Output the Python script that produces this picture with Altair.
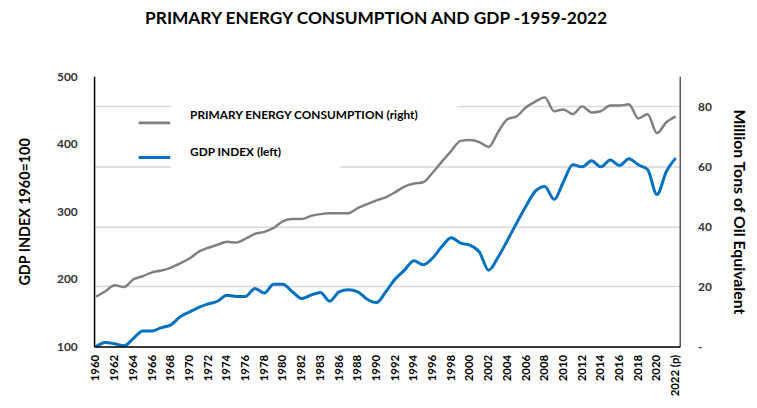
import altair as alt
import pandas as pd

years = list(range(1960, 2023))

gdp_index = [100, 106, 104, 101, 112, 123, 123, 128, 132, 144,
             151, 158, 163, 167, 176, 174, 174, 186, 179, 192,
             192, 181, 171, 176, 180, 167, 181, 184, 181, 170,
             165, 181, 200, 213, 227, 221, 231, 248, 261, 253,
             250, 240, 213, 232, 257, 283, 308, 330, 337, 318,
             344, 369, 366, 375, 366, 376, 368, 378, 369, 362,
             325, 359, 379]

energy_mtoe = [16.6, 18.4, 20.4, 19.8, 22.4, 23.4, 24.7, 25.3, 26.3, 27.7,
               29.3, 31.6, 32.9, 33.9, 34.9, 34.6, 35.9, 37.5, 38.2, 39.5,
               41.8, 42.5, 42.5, 43.5, 44.1, 44.4, 44.4, 44.4, 46.1, 47.4,
               48.7, 49.7, 51.4, 53.3, 54.3, 54.7, 57.9, 61.6, 65.2, 68.5,
               68.8, 68.1, 66.5, 71.4, 75.7, 76.7, 79.7, 81.6, 83.0, 78.4,
               79.0, 77.4, 80.0, 78.0, 78.4, 80.3, 80.3, 80.7, 76.0, 77.4,
               71.1, 74.7, 76.7]

x_tick_years = list(range(1960, 2023, 2))
left_ticks = [100, 200, 300, 400, 500]
right_ticks = [0, 20, 40, 60, 80]

title_text = "PRIMARY ENERGY CONSUMPTION AND GDP -1959-2022"
legend_energy = "PRIMARY ENERGY CONSUMPTION (right)"
legend_gdp = "GDP INDEX (left)"
left_title = "GDP INDEX 1960=100"
right_title = "Million Tons of Oil Equivalent"

FONT = "Lato"
GRAY = "#808080"
BLUE = "#0070C0"

df = pd.DataFrame({"year": years, "gdp": gdp_index, "energy": energy_mtoe})

x_enc = alt.X(
    "year:Q",
    scale=alt.Scale(domain=[1959.79, 2022.44], nice=False, zero=False),
    axis=alt.Axis(
        values=x_tick_years,
        labelExpr="datum.value == 1984 ? '1983' : (datum.value == 2022 ? '2022 (p)' : datum.label)",
        format="d",
        labelAngle=270,
        labelAlign="right",
        labelBaseline="middle",
        labelFontSize=11.5,
        labelFontWeight="bold",
        labelColor="#000000",
        labelPadding=8,
        labelOverlap=False,
        ticks=False,
        grid=False,
        domainColor="#000000",
        domainWidth=1.5,
        title=None,
        zindex=1,
    ),
)

base = alt.Chart(df).encode(x=x_enc)

energy_line = base.mark_line(color=GRAY, strokeWidth=2.5, interpolate="monotone").encode(
    y=alt.Y(
        "energy:Q",
        scale=alt.Scale(domain=[0, 90], nice=False, zero=False),
        axis=alt.Axis(
            orient="right",
            values=right_ticks,
            labelExpr="datum.value == 0 ? '-' : datum.label",
            labelFontSize=12,
            labelFontWeight="bold",
            labelColor="#333333",
            labelPadding=18,
            ticks=False,
            grid=True,
            gridColor="#d9d9d9",
            gridWidth=1.5,
            domainColor="#595959",
            domainWidth=1.5,
            title=right_title,
            titleFontSize=16,
            titleFontWeight="bold",
            titleColor="#000000",
            titlePadding=19,
        ),
    )
)

gdp_line = base.mark_line(color=BLUE, strokeWidth=3, interpolate="monotone").encode(
    y=alt.Y(
        "gdp:Q",
        scale=alt.Scale(domain=[100, 500], nice=False, zero=False),
        axis=alt.Axis(
            orient="left",
            values=left_ticks,
            labelFontSize=12,
            labelFontWeight="bold",
            labelColor="#333333",
            labelPadding=17,
            ticks=False,
            grid=False,
            domainColor="#000000",
            domainWidth=1.5,
            title=left_title,
            titleFontSize=14.5,
            titleFontWeight="bold",
            titleColor="#000000",
            titlePadding=24,
        ),
    )
)

one = alt.Chart(pd.DataFrame({"k": [0]}))

legend_box1 = one.mark_rect(color="white").encode(
    x=alt.value(78), x2=alt.value(367), y=alt.value(20), y2=alt.value(55)
)
legend_box2 = one.mark_rect(color="white").encode(
    x=alt.value(78), x2=alt.value(249), y=alt.value(58), y2=alt.value(95)
)
legend_line1 = one.mark_rule(color=GRAY, strokeWidth=3).encode(
    x=alt.value(45), x2=alt.value(77), y=alt.value(47)
)
legend_line2 = one.mark_rule(color=BLUE, strokeWidth=3).encode(
    x=alt.value(45), x2=alt.value(77), y=alt.value(82)
)
legend_text1 = one.mark_text(align="left", baseline="middle", fontSize=12,
                             fontWeight="bold", font=FONT, color="#000000").encode(
    x=alt.value(97), y=alt.value(39), text=alt.value(legend_energy)
)
legend_text2 = one.mark_text(align="left", baseline="middle", fontSize=12,
                             fontWeight="bold", font=FONT, color="#000000").encode(
    x=alt.value(97), y=alt.value(76), text=alt.value(legend_gdp)
)
title_mark = one.mark_text(align="center", baseline="alphabetic", fontSize=17.5,
                           fontWeight="bold", font=FONT, color="#000000").encode(
    x=alt.value(285), y=alt.value(-53), text=alt.value(title_text)
)

chart = alt.layer(
    energy_line, gdp_line,
    legend_box1, legend_box2, legend_line1, legend_line2,
    legend_text1, legend_text2, title_mark,
).resolve_scale(y="independent").properties(
    width=592,
    height=273,
    autosize=alt.AutoSizeParams(type="none"),
    padding={"left": 87, "top": 67, "right": 70, "bottom": 52},
).configure(
    font=FONT,
).configure_view(stroke=None)

chart.save("out.html", embed_options={"renderer": "svg", "actions": False})
